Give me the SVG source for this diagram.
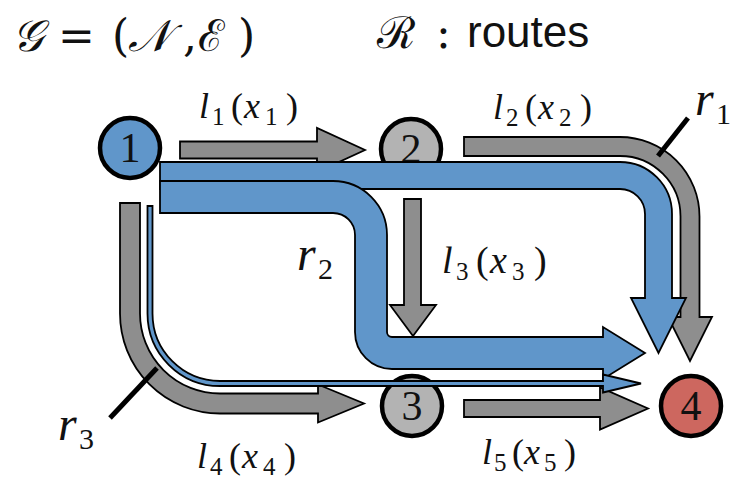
<svg xmlns="http://www.w3.org/2000/svg" width="739" height="481" viewBox="0 0 739 481">
<style>
.bg{fill:#ffffff}
.ga{fill:#8e8e8e;stroke:#000;stroke-width:1.8;stroke-linejoin:miter}
.ba{fill:#6096ca;stroke:#000;stroke-width:1.8;stroke-linejoin:miter}
.nd{stroke:#000;stroke-width:4.5}
.n1{fill:#6096ca}.n2{fill:#b3b3b3}.n4{fill:#cd675f}
.num{font-family:"Liberation Serif",serif;font-size:42px;text-anchor:middle;fill:#111}
.m{font-family:"Liberation Serif",serif;font-size:36px;fill:#111}
.m38{font-size:38px}
.it{font-style:italic}
.sb{font-size:25px}
.rl{font-family:"Liberation Serif",serif;font-size:48px;fill:#111}
.rs{font-size:30px}
.ptr{stroke:#000;stroke-width:5;fill:none}
.tt{font-family:"DejaVu Serif","Liberation Serif",serif;font-size:44px;fill:#111}
.sans{font-family:"Liberation Sans",sans-serif;font-size:44px;fill:#111}
</style>
<rect class="bg" x="0" y="0" width="739" height="481"/>
<g id="title">
<text class="tt" y="51"><tspan x="12" font-style="italic">𝒢</tspan><tspan x="58">=</tspan><tspan x="112">(</tspan><tspan x="128" font-style="italic">𝒩</tspan><tspan x="183">,</tspan><tspan x="198">ℰ</tspan><tspan x="238">)</tspan></text>
<text class="tt" y="48"><tspan x="377">ℛ</tspan><tspan x="436">:</tspan></text>
<text class="sans" x="467" y="47">routes</text>
</g>
<g id="node2"><circle class="nd n2" cx="411" cy="149" r="30"/><text class="num" x="411" y="163">2</text></g>
<g id="node3"><circle class="nd n2" cx="412" cy="406" r="30"/><text class="num" x="412" y="420">3</text></g>
<g id="connectors">
<path id="l1" class="ga" d="M180,141.5 H317 V128 L365,150 L317,172 V158.5 H180 Z"/>
<path id="l2" class="ga" d="M464,137 H620 A79.5,79.5 0 0 1 699.5,216.5 V317 H712 L690,361 L668,317 H680.5 V216.5 A60.5,60.5 0 0 0 620,156 H464 Z"/>
<path id="l3" class="ga" d="M404,199 H421 V305 H436 L413,336 L390,305 H404 Z"/>
<path id="l4" class="ga" d="M120,203 V313.5 A100,100 0 0 0 220,413.5 H318 V422.5 L364,403.5 L318,384.5 V393.5 H220 A80,80 0 0 1 140,313.5 V203 Z"/>
<path id="l5" class="ga" d="M464,400 H600 V387.5 L648,408.5 L600,429.5 V417 H464 Z"/>
<path id="r1" class="ba" d="M160,162 H620 A52,52 0 0 1 672,214 V298 H686 L658.5,353 L631,298 H645 V214 A25,25 0 0 0 620,189 H160 Z"/>
<path id="r2" class="ba" d="M160,181 H333 A54,54 0 0 1 387,235 V332 A5,5 0 0 0 392,337 H603 V327 L645,353 L603,379 V369 H392 A37,37 0 0 1 355,332 V235 A22,22 0 0 0 333,213 H160 Z"/>
<path id="r3" class="ba" d="M147.5,206 V313.5 A72.5,72.5 0 0 0 220,386 H603 V392.5 L641,383.5 L603,374.5 V381 H220 A67.5,67.5 0 0 1 152.5,313.5 V206 Z"/>
<line class="ptr" x1="658" y1="156" x2="688" y2="118"/>
<line class="ptr" x1="110" y1="418" x2="157" y2="368"/>
</g>
<g id="node1"><circle class="nd n1" cx="130" cy="148" r="30"/><text class="num" x="130" y="162">1</text></g>
<g id="node4"><circle class="nd n4" cx="691" cy="406" r="30"/><text class="num" x="691" y="420">4</text></g>
<g id="labels">
<text class="m" y="118"><tspan x="199" class="it">l</tspan><tspan x="212" y="125" class="sb">1</tspan><tspan x="231" y="118">(</tspan><tspan x="244" class="it">x</tspan><tspan x="265" y="125" class="sb">1</tspan><tspan x="286" y="118">)</tspan></text>
<text class="m" y="119"><tspan x="493" class="it">l</tspan><tspan x="506" y="126" class="sb">2</tspan><tspan x="525" y="119">(</tspan><tspan x="538" class="it">x</tspan><tspan x="559" y="126" class="sb">2</tspan><tspan x="580" y="119">)</tspan></text>
<text class="m m38" y="273"><tspan x="442" class="it">l</tspan><tspan x="456" y="280" class="sb">3</tspan><tspan x="476" y="273">(</tspan><tspan x="490" class="it">x</tspan><tspan x="512" y="280" class="sb">3</tspan><tspan x="534" y="273">)</tspan></text>
<text class="m" y="468"><tspan x="197" class="it">l</tspan><tspan x="210" y="475" class="sb">4</tspan><tspan x="229" y="468">(</tspan><tspan x="242" class="it">x</tspan><tspan x="263" y="475" class="sb">4</tspan><tspan x="284" y="468">)</tspan></text>
<text class="m" y="464"><tspan x="482" class="it">l</tspan><tspan x="494" y="471" class="sb">5</tspan><tspan x="512" y="464">(</tspan><tspan x="524" class="it">x</tspan><tspan x="544" y="471" class="sb">5</tspan><tspan x="564" y="464">)</tspan></text>
<text class="rl" y="115"><tspan x="695" class="it">r</tspan><tspan x="716" y="124" class="rs">1</tspan></text>
<text class="rl" y="270"><tspan x="297" class="it">r</tspan><tspan x="318" y="279" class="rs">2</tspan></text>
<text class="rl" y="440"><tspan x="58" class="it">r</tspan><tspan x="79" y="449" class="rs">3</tspan></text>
</g>
</svg>
